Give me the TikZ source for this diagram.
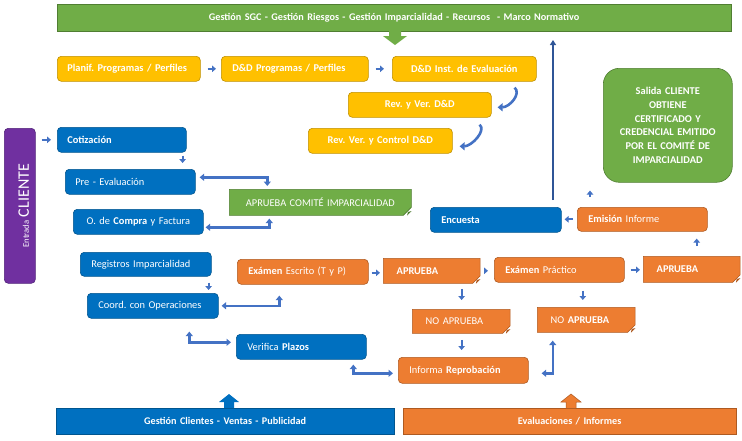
\documentclass[tikz,border=0pt]{standalone}
\usepackage{fontspec}
\setmainfont{Carlito}
\frenchspacing
\usetikzlibrary{arrows.meta,shapes.misc}
\definecolor{cgreen}{HTML}{70AD47}
\definecolor{cgreenD}{HTML}{507E32}
\definecolor{cyellow}{HTML}{FFC000}
\definecolor{cyellowD}{HTML}{BF9000}
\definecolor{cblue}{HTML}{0070C0}
\definecolor{cblueD}{HTML}{00558F}
\definecolor{corange}{HTML}{ED7D31}
\definecolor{corangeD}{HTML}{AE5A21}
\definecolor{cpurple}{HTML}{7030A0}
\definecolor{cpurpleD}{HTML}{52237A}
\definecolor{carrow}{HTML}{4472C4}
\definecolor{carrowD}{HTML}{2F528F}
\definecolor{cline}{HTML}{2F5597}
\tikzset{
  base/.style={anchor=north west, inner ysep=0pt, text=white, font=\fontsize{10.4}{12}\selectfont, line width=0.6pt},
  ybox/.style={base, fill=cyellow, draw=cyellowD, rounded corners=4pt, font=\fontsize{10.4}{12}\selectfont\bfseries},
  bbox/.style={base, fill=cblue, draw=cblueD, rounded corners=4pt},
  obox/.style={base, fill=corange, draw=corangeD, rounded corners=4pt},
  ofold/.style={base, fill=corange, draw=corangeD, chamfered rectangle, chamfered rectangle corners=south east, chamfered rectangle xsep=4pt, chamfered rectangle ysep=4pt},
  gfold/.style={base, fill=cgreen, draw=cgreenD, chamfered rectangle, chamfered rectangle corners=south east, chamfered rectangle xsep=4pt, chamfered rectangle ysep=4pt},
  banner/.style={base, align=center, font=\fontsize{10.2}{12}\selectfont\bfseries},
  sarrow/.style={draw=carrow, line width=2.2pt, -{Triangle[length=4pt,width=6.5pt]}},
  darrow/.style={draw=carrow, line width=2.4pt, {Triangle[length=4.5pt,width=7pt]}-{Triangle[length=4.5pt,width=7pt]}},
  carr/.style={draw=carrow, line width=2.6pt, -{Triangle[length=5pt,width=8pt]}},
}
\begin{document}
\begin{tikzpicture}[x=1pt,y=-1pt]
\useasboundingbox (0,0) rectangle (742,440);
% banners
\node[banner, fill=cgreen, draw=cgreenD, text width=667pt, minimum height=27pt] (top) at (57,4)
  {Gestión SGC - Gestión Riesgos - Gestión Imparcialidad - Recursos~ - Marco Normativo};
\node[banner, fill=cblue, draw=cblueD, text width=331pt, minimum height=26pt] (bot1) at (56,408)
  {Gestión Clientes - Ventas - Publicidad};
\node[banner, fill=corange, draw=corangeD, text width=326pt, minimum height=26pt] (bot2) at (403,408)
  {Evaluaciones / Informes};
% block arrows of banners
\fill[cgreen] (389,31) -- (401,31) -- (401,36) -- (407,36) -- (395,45) -- (383,36) -- (389,36) -- cycle;
\fill[cblue] (224,408) -- (224,402) -- (219,402) -- (229,394) -- (239,402) -- (234,402) -- (234,408) -- cycle;
\fill[corange] (566,408) -- (566,402) -- (561,402) -- (571,394) -- (581,402) -- (576,402) -- (576,408) -- cycle;
\draw[corangeD, line width=0.5pt] (566,408) -- (566,402) -- (561,402) -- (571,394) -- (581,402) -- (576,402) -- (576,408);
% yellow row
\node[ybox, inner xsep=10pt, text width=123pt, minimum height=25pt] (planif) at (57,56) {Planif. Programas / Perfiles};
\node[ybox, inner xsep=11pt, text width=125pt, minimum height=25pt] (ddprog) at (221,56) {D\&D Programas / Perfiles};
\node[ybox, inner xsep=4pt, align=center, text width=136pt, minimum height=25pt] (ddinst) at (392,56) {D\&D Inst. de Evaluación};
\node[ybox, inner xsep=4pt, align=center, text width=135pt, minimum height=25pt] (revver) at (348,92) {Rev. y Ver. D\&D};
\node[ybox, inner xsep=4pt, align=center, text width=136pt, minimum height=25pt] (revctl) at (308,128) {Rev. Ver. y Control D\&D};
% output
\node[base, fill=cgreen, draw=cgreenD, rounded corners=16pt, inner xsep=2pt, align=center, text width=125pt, minimum height=114pt, font=\fontsize{10.4}{13.8}\selectfont\bfseries] (salida) at (603,68)
  {Salida CLIENTE\\OBTIENE\\CERTIFICADO Y\\CREDENCIAL EMITIDO\\POR EL COMITÉ DE\\IMPARCIALIDAD\\[6pt]};
% entrada
\node[base, fill=cpurple, draw=cpurpleD, rounded corners=4pt, inner xsep=0pt, align=center, text width=31pt, minimum height=155pt] (entrada) at (4,128)
  {\hspace*{8pt}\rotatebox{90}{\fontsize{8.6}{10}\selectfont Entrada \fontsize{16}{18}\selectfont CLIENTE}};
% blue boxes
\node[bbox, inner xsep=10pt, text width=109pt, minimum height=25pt, font=\fontsize{10.4}{12}\selectfont\bfseries] (cotiz) at (57,127) {Cotización};
\node[bbox, inner xsep=10pt, text width=110pt, minimum height=25pt] (preev) at (65,169) {Pre - Evaluación};
\node[bbox, inner xsep=4pt, align=center, text width=122pt, minimum height=25pt] (ocompra) at (73,209) {O. de \textbf{Compra} y Factura};
\node[bbox, inner xsep=11pt, text width=109pt, minimum height=24pt] (registros) at (80,252) {Registros Imparcialidad};
\node[bbox, inner xsep=11pt, text width=109pt, minimum height=25pt] (coord) at (87,293) {Coord. con Operaciones};
\node[bbox, inner xsep=11pt, text width=108pt, minimum height=25pt] (verifica) at (236,334) {Verifica \textbf{Plazos}};
\node[bbox, inner xsep=11pt, text width=109pt, minimum height=25pt, font=\fontsize{10.4}{12}\selectfont\bfseries] (encuesta) at (430,207) {Encuesta};
% green decision
\node[gfold, inner xsep=4pt, align=center, text width=166pt, minimum height=26pt] (comite) at (229,189) {APRUEBA COMITÉ IMPARCIALIDAD};
% orange boxes
\node[obox, inner xsep=11pt, text width=109pt, minimum height=25pt] (escrito) at (237,259) {\textbf{Exámen} Escrito (T y P)};
\node[ofold, inner xsep=10pt, text width=70pt, minimum height=25pt, font=\fontsize{10.4}{12}\selectfont\bfseries] (ap1) at (383,258) {APRUEBA};
\node[obox, inner xsep=11pt, text width=108pt, minimum height=25pt] (practico) at (494,257) {\textbf{Exámen} Práctico};
\node[ofold, inner xsep=10pt, text width=70pt, minimum height=26pt, font=\fontsize{10.4}{12}\selectfont\bfseries] (ap2) at (643,256) {APRUEBA\\[2pt]};
\node[ofold, inner xsep=10pt, text width=71pt, minimum height=24pt] (noap1) at (412,309) {NO APRUEBA};
\node[ofold, inner xsep=10pt, text width=71pt, minimum height=25pt] (noap2) at (537,307) {NO \textbf{APRUEBA}\\[2pt]};
\node[obox, inner xsep=11pt, text width=108pt, minimum height=26pt] (informa) at (398,357) {Informa \textbf{Reprobación}};
\node[obox, inner xsep=11pt, text width=108pt, minimum height=24pt] (emision) at (577,207) {\textbf{Emisión} Informe};
% folds
\foreach \n/\c in {ap1/corangeD, ap2/corangeD, noap1/corangeD, noap2/corangeD, comite/cgreenD}{
  \fill[\c] (\n.east |- \n.south) ++(-4.5,0) -- ++(0.8,-3.7) -- ++(3.7,-0.8) -- cycle;
}
% straight arrows
\draw[sarrow, shorten <=6pt, shorten >=6pt] (entrada.east |- cotiz.west) -- (cotiz.west);
\draw[sarrow, shorten <=7pt, shorten >=5pt] (planif) -- (ddprog);
\draw[sarrow, shorten <=7pt, shorten >=8pt] (ddprog) -- (ddinst);
\draw[sarrow, shorten <=3pt, shorten >=6pt] ([xshift=-4pt]cotiz.south east) -- ([xshift=-4pt]cotiz.south east |- preev.north);
\draw[sarrow, shorten <=6pt, shorten >=3pt] ([xshift=-3pt]registros.south east) -- ([xshift=-3pt]registros.south east |- coord.north);
\draw[sarrow, shorten <=3pt, shorten >=3pt] ([yshift=-1pt]escrito.east) -- ([yshift=-1pt]escrito.east -| ap1.west);
\draw[sarrow, shorten <=5pt, shorten >=6pt] (ap1.east) -- (ap1.east -| practico.west);
\draw[sarrow, shorten <=6pt, shorten >=3pt] (practico) -- (practico -| ap2.west);
\draw[sarrow, shorten <=9pt, shorten >=9pt] ([xshift=-15pt]ap1.south east) -- ([xshift=-15pt]ap1.south east |- noap1.north);
\draw[sarrow, shorten <=8pt, shorten >=7pt] ([xshift=23.5pt]practico.south) -- ([xshift=23.5pt]practico.south |- noap2.north);
\draw[sarrow, shorten <=10pt, shorten >=7pt] ([xshift=-45pt]noap1.south east) -- ([xshift=-45pt]noap1.south east |- informa.north);
\draw[sarrow, shorten <=10pt, shorten >=7pt] ([xshift=5pt]ap2.north) -- ([xshift=5pt]ap2.north |- emision.south);
\draw[sarrow, shorten <=10pt, shorten >=8pt] ([xshift=13pt]emision.north west) -- ([xshift=13pt]emision.north west |- salida.south);
\draw[sarrow, shorten <=4pt, shorten >=3pt] (emision.west) -- (emision.west -| encuesta.east);
% elbow double arrows
\draw[darrow] ([shift={(4,-4.5)}]preev.east) -| ([shift={(-53,-3)}]comite.north);
\draw[darrow] ([shift={(2,5.5)}]ocompra.east) -| ([shift={(-51,3)}]comite.south);
\draw[darrow] ([shift={(3,0)}]coord.east) -| ([shift={(-23.5,11)}]escrito.south);
\draw[darrow] ([shift={(36.5,13)}]coord.south) |- ([shift={(-5,-4.5)}]verifica.west);
\draw[darrow] ([shift={(52,5)}]verifica.south) |- ([shift={(-5,3)}]informa.west);
\draw[darrow] ([shift={(13,3)}]informa.east) -| ([shift={(-33.5,8)}]noap2.south);
% curved arrows
\draw[carr] ([shift={(-22,6)}]ddinst.south east) .. controls +(7,6) and +(12,0) .. ([shift={(6,2.5)}]revver.east);
\draw[carr] ([shift={(-12,7)}]revver.south east) .. controls +(7,6) and +(12,0) .. ([shift={(7,5.5)}]revctl.east);
% long return line
\coordinate (vbot) at (553,200);
\coordinate (vtop) at (553,40);
\draw[draw=cline, line width=2.2pt, -{Triangle[length=5pt,width=6pt]}] (vbot) -- (vtop);
\end{tikzpicture}
\end{document}
